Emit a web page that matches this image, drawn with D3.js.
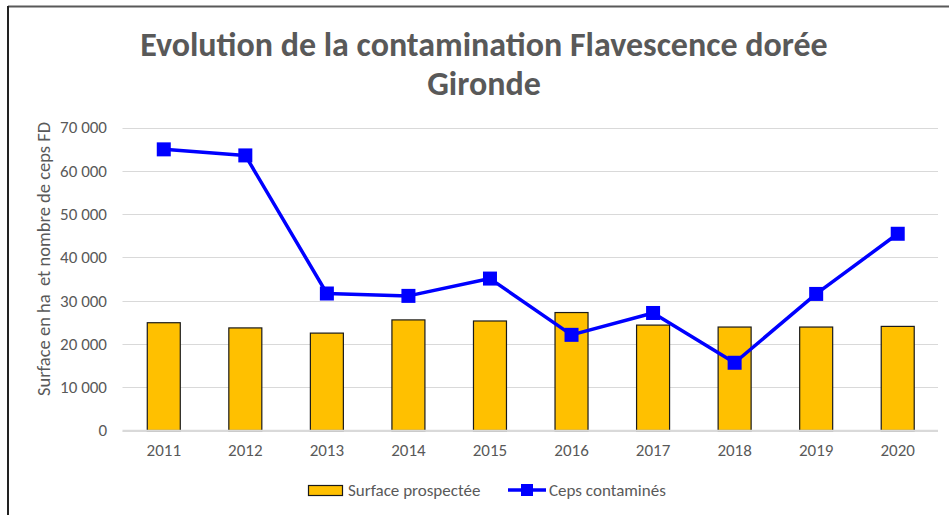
<!DOCTYPE html>
<html><head><meta charset="utf-8">
<script src="https://cdn.jsdelivr.net/npm/d3@7"></script>
<style>body{margin:0;background:#fff}svg{display:block}</style>
</head><body>
<svg id="c" width="949" height="515"></svg>
<script>
const years = ["2011","2012","2013","2014","2015","2016","2017","2018","2019","2020"];
const surface = [24900, 23700, 22500, 25550, 25300, 27250, 24350, 23900, 23900, 24050];
const ceps = [64950, 63550, 31650, 31100, 35100, 22100, 27150, 15650, 31550, 45450];
const yTicks = [0,10000,20000,30000,40000,50000,60000,70000];
const titleLines = ["Evolution de la contamination Flavescence dorée","Gironde"];
const yTitle = "Surface en ha  et nombre de ceps FD";
const legendLabels = ["Surface prospectée","Ceps contaminés"];

const svg = d3.select("#c");
const font = "Calibri, Carlito, 'Open Sans', sans-serif";
const gray = "#595959";
const fs = 17;

// frame
svg.append("line").attr("x1",8).attr("x2",949).attr("y1",6.5).attr("y2",6.5).attr("stroke","#595959").attr("stroke-width",2);
svg.append("line").attr("x1",8).attr("x2",8).attr("y1",6).attr("y2",515).attr("stroke","#222").attr("stroke-width",2);

const xc = d3.scalePoint().domain(years).range([122.5, 938]).padding(0.5);
const y = d3.scaleLinear().domain([0,70000]).range([430.5, 127.5]);

// gridlines
svg.append("g").selectAll("line").data(yTicks).join("line")
  .attr("x1",122.5).attr("x2",938).attr("y1",d=>Math.round(y(d))+0.5).attr("y2",d=>Math.round(y(d))+0.5)
  .attr("stroke","#d9d9d9").attr("stroke-width",1);

// y axis
const yAxis = d3.axisLeft(y).tickValues(yTicks).tickSize(0).tickPadding(0)
  .tickFormat(d => d3.format(",")(d).replace(/,/g," "));
const gy = svg.append("g").attr("transform","translate(107,0)").call(yAxis);
gy.select(".domain").remove();
gy.selectAll("text").attr("font-family",font).attr("font-size",fs).attr("fill",gray);

// x axis
const xAxis = d3.axisBottom(xc).tickSize(0).tickPadding(0);
const gx = svg.append("g").attr("transform","translate(0,444)").call(xAxis);
gx.select(".domain").remove();
gx.selectAll("text").attr("font-family",font).attr("font-size",fs).attr("fill",gray).attr("dy","0.71em");

// bars
const bw = 33;
svg.append("g").selectAll("rect").data(years).join("rect")
  .attr("x",(d)=>xc(d)-bw/2+0.5).attr("width",bw)
  .attr("y",(d,i)=>y(surface[i])).attr("height",(d,i)=>y(0)-y(surface[i]))
  .attr("fill","#FFC000").attr("stroke","#1a1a1a").attr("stroke-width",1.2);

// axis baseline
svg.append("line").attr("x1",122.5).attr("x2",938).attr("y1",430.5).attr("y2",430.5).attr("stroke","#d9d9d9").attr("stroke-width",1.5);

// line
const line = d3.line().x((d,i)=>xc(years[i])+0.5).y(d=>y(d));
svg.append("path").datum(ceps).attr("d",line).attr("fill","none").attr("stroke","#0000FF").attr("stroke-width",3.5).attr("stroke-linejoin","round");
const ms = 14;
svg.append("g").selectAll("rect").data(ceps).join("rect")
  .attr("x",(d,i)=>xc(years[i])+0.5-ms/2).attr("y",d=>y(d)-ms/2).attr("width",ms).attr("height",ms)
  .attr("fill","#0000FF");

// title
svg.append("g").selectAll("text").data(titleLines).join("text")
  .attr("x",484).attr("y",(d,i)=>56+i*39).attr("text-anchor","middle")
  .attr("font-family",font).attr("font-weight","bold").attr("font-size",34).attr("fill",gray)
  .text(d=>d);

// y title
svg.append("text").attr("transform","translate(50,259) rotate(-90)").attr("text-anchor","middle")
  .style("white-space","pre")
  .attr("font-family",font).attr("font-size",18.5).attr("fill",gray).text(yTitle);

// legend
const lg = svg.append("g");
lg.append("rect").attr("x",308.5).attr("y",485.5).attr("width",34).attr("height",10).attr("fill","#FFC000").attr("stroke","#1a1a1a").attr("stroke-width",1.2);
lg.append("text").attr("x",348).attr("y",496).attr("font-family",font).attr("font-size",fs).attr("fill",gray).text(legendLabels[0]);
lg.append("line").attr("x1",508).attr("x2",546).attr("y1",490).attr("y2",490).attr("stroke","#0000FF").attr("stroke-width",3.5);
lg.append("rect").attr("x",521).attr("y",484).attr("width",12).attr("height",12).attr("fill","#0000FF");
lg.append("text").attr("x",549).attr("y",496).attr("font-family",font).attr("font-size",fs).attr("fill",gray).text(legendLabels[1]);
</script>
</body></html>
